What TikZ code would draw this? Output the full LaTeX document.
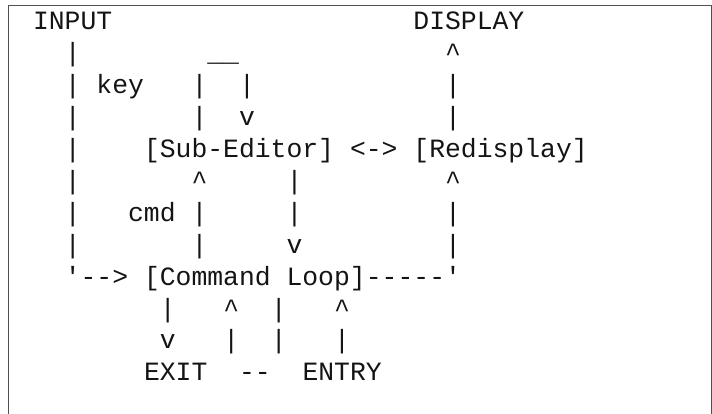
\documentclass[tikz,border=0pt]{standalone}
\usepackage{fontspec}
\setmonofont{Liberation Mono}
\definecolor{inkcol}{RGB}{20,20,20}
\definecolor{framecol}{RGB}{80,80,80}
\newcommand\asciifont{\ttfamily\fontsize{26.4}{31.9}\selectfont}
% one character cell is 15.85 wide, one text row 31.9 high
\newcommand\tok[4]{\node[ascii] (#1) at ({17.2+15.85*#2},{384-31.9*#3}) {#4};}
\tikzset{
  ascii/.style={anchor=base west, inner sep=0pt, outer sep=0pt, font=\asciifont, text=inkcol},
  frameline/.style={draw=framecol, line width=1pt}
}
\begin{document}
\begin{tikzpicture}[x=1pt,y=1pt]
\useasboundingbox (0,0) rectangle (712,414);
% open frame (no bottom edge)
\coordinate (fbl) at (8.5,-2);
\coordinate (ftl) at (8.5,408.5);
\coordinate (ftr) at (711,408.5);
\coordinate (fbr) at (711,-2);
\draw[frameline] (fbl) -- (ftl) -- (ftr) -- (fbr);
% row 0
\tok{input}{1}{0}{INPUT}
\tok{display}{25}{0}{DISPLAY}
% row 1
\tok{a1}{3}{1}{|}
\tok{bar}{12}{1}{\_\_}
\tok{d1}{27}{1}{\textasciicircum}
% row 2
\tok{a2}{3}{2}{|}
\tok{key}{5}{2}{key}
\tok{s2}{11}{2}{|}
\tok{r2}{14}{2}{|}
\tok{d2}{27}{2}{|}
% row 3
\tok{a3}{3}{3}{|}
\tok{s3}{11}{3}{|}
\tok{r3}{14}{3}{v}
\tok{d3}{27}{3}{|}
% row 4
\tok{a4}{3}{4}{|}
\tok{sub}{8}{4}{[Sub-Editor]}
\tok{link}{21}{4}{<->}
\tok{redisp}{25}{4}{[Redisplay]}
% row 5
\tok{a5}{3}{5}{|}
\tok{c5}{11}{5}{\textasciicircum}
\tok{e5}{17}{5}{|}
\tok{d5}{27}{5}{\textasciicircum}
% row 6
\tok{a6}{3}{6}{|}
\tok{cmd}{7}{6}{cmd}
\tok{c6}{11}{6}{|}
\tok{e6}{17}{6}{|}
\tok{d6}{27}{6}{|}
% row 7
\tok{a7}{3}{7}{|}
\tok{c7}{11}{7}{|}
\tok{e7}{17}{7}{v}
\tok{d7}{27}{7}{|}
% row 8
\tok{a8}{3}{8}{'-->}
\tok{loop}{8}{8}{[Command Loop]}
\tok{tail}{22}{8}{-----'}
% row 9
\tok{x9}{9}{9}{|}
\tok{n9}{13}{9}{\textasciicircum}
\tok{m9}{16}{9}{|}
\tok{y9}{20}{9}{\textasciicircum}
% row 10
\tok{x10}{9}{10}{v}
\tok{n10}{13}{10}{|}
\tok{m10}{16}{10}{|}
\tok{y10}{20}{10}{|}
% row 11
\tok{exit}{8}{11}{EXIT}
\tok{dash}{14}{11}{--}
\tok{entry}{18}{11}{ENTRY}
\end{tikzpicture}
\end{document}
